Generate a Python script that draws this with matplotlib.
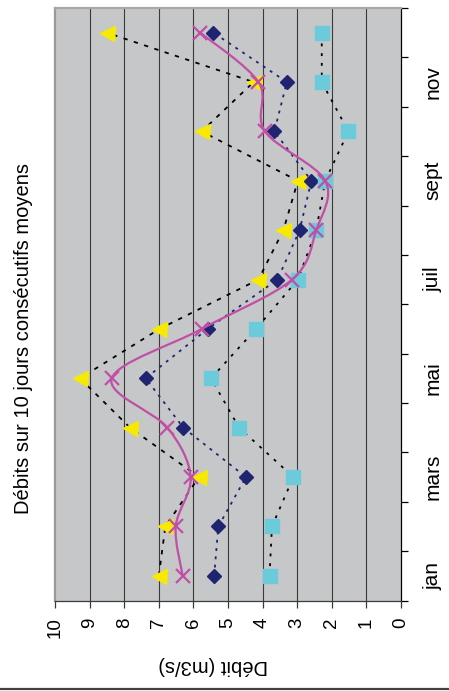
import numpy as np
import matplotlib
matplotlib.use('Agg')
import matplotlib.pyplot as plt
from matplotlib.path import Path
from matplotlib.patches import PathPatch

plt.rcParams['font.family'] = ['Liberation Sans', 'DejaVu Sans']

# monthly values (m3/s)
months = ['jan', 'fév', 'mars', 'avr', 'mai', 'juin', 'juil', 'août', 'sept', 'oct', 'nov', 'déc']
month_labels = ['jan', '', 'mars', '', 'mai', '', 'juil', '', 'sept', '', 'nov', '']
serie_triangle = [7.0, 6.81, 5.84, 7.83, 9.28, 6.98, 4.12, 3.40, 2.98, 5.76, 4.26, 8.5]
serie_losange = [5.40, 5.28, 4.48, 6.29, 7.38, 5.59, 3.57, 2.93, 2.59, 3.66, 3.30, 5.42]
serie_carre = [3.80, 3.73, 3.11, 4.68, 5.49, 4.19, 2.98, 2.45, 2.19, 1.52, 2.29, 2.29]
serie_croix = [6.31, 6.51, 6.08, 6.75, 8.36, 5.76, 3.15, 2.45, 2.19, 3.93, 4.12, 5.8]
value_ticks = list(range(0, 11))

pos = np.arange(1, len(months) + 1)

fig = plt.figure(figsize=(4.49, 6.91), dpi=100)
ax = fig.add_axes([55 / 449, 1 - 600.5 / 691, 346 / 449, 592.5 / 691])
ax.set_facecolor('#c6c7c9')

# chart is turned a quarter turn: values run right to left, months bottom to top
ax.set_xlim(10, 0)
ax.set_ylim(0.5, 12.5)

for v in range(1, 10):
    ax.axvline(v, color='#3a3a3a', lw=0.8, zorder=1)

ax.plot(serie_triangle, pos, color='black', lw=1.3, ls=(0, (2.4, 3.6)),
        marker='<', ms=10.8, mfc='#f7ea00', mec='#f7ea00', zorder=3)
ax.plot(serie_losange, pos, color='#1f2470', lw=1.3, ls=(0, (1.6, 3.0)),
        marker='D', ms=7.4, mfc='#1f2470', mec='#1f2470', zorder=4)
ax.plot(serie_carre, pos, color='black', lw=1.3, ls=(0, (1.6, 3.8)),
        marker='s', ms=10.5, mfc='#6ccbdb', mec='#6ccbdb', zorder=5)

# smoothed line for the cross series (bezier through the points)
pts = np.column_stack([serie_croix, pos])
verts = [tuple(pts[0])]
codes = [Path.MOVETO]
for i in range(len(pts) - 1):
    p0 = pts[max(i - 1, 0)]
    p1 = pts[i]
    p2 = pts[i + 1]
    p3 = pts[min(i + 2, len(pts) - 1)]
    c1 = p1 + (p2 - p0) / 6.0
    c2 = p2 - (p3 - p1) / 6.0
    verts += [tuple(c1), tuple(c2), tuple(p2)]
    codes += [Path.CURVE4] * 3
ax.add_patch(PathPatch(Path(verts, codes), fill=False, edgecolor='#c04fa6', lw=1.6, zorder=6))
ax.plot(serie_croix, pos, ls='none', marker='x', ms=10, mew=1.6, color='#c04fa6', zorder=7)

# axes styling
ax.spines['left'].set_color('#9a9a9a')
ax.spines['left'].set_linewidth(1.6)
ax.spines['top'].set_color('#a8a8a8')
ax.spines['top'].set_linewidth(1.6)
ax.spines['right'].set_color('black')
ax.spines['right'].set_linewidth(0.9)
ax.spines['bottom'].set_color('#3a3a3a')
ax.spines['bottom'].set_linewidth(0.9)

ax.set_xticks(value_ticks)
ax.set_xticklabels([str(v) for v in value_ticks], rotation=90, fontsize=13.5)
ax.tick_params(axis='x', direction='out', length=5, width=0.9, color='#3a3a3a', pad=7)

ax.yaxis.tick_right()
ax.set_yticks(pos)
ax.set_yticklabels(month_labels, rotation=90, va='center', fontsize=15)
ax.set_yticks(np.arange(0.5, 13, 1), minor=True)
ax.tick_params(axis='y', which='major', length=0, pad=16)
ax.tick_params(axis='y', which='minor', direction='out', length=5, width=0.9, color='black')

fig.text(24 / 449, 1 - 338 / 691, 'Débits sur 10 jours consécutifs moyens',
         rotation=90, ha='center', va='center', fontsize=14.5)
fig.text(213 / 449, 1 - 665 / 691, 'Débit (m3/s)', rotation=180,
         ha='center', va='center', fontsize=14.5)

fig.add_artist(plt.Line2D([0, 1], [1 - 689 / 691, 1 - 689 / 691], color='#404040', lw=1.6))

fig.savefig('out.png', dpi=100)
